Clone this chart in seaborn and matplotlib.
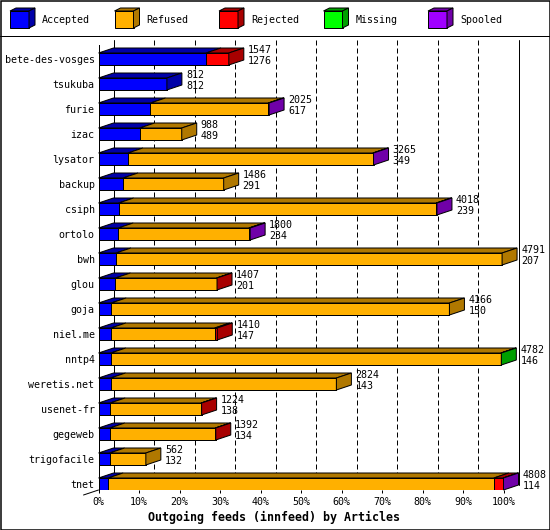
import numpy as np
import pandas as pd
import matplotlib
matplotlib.use("Agg")
import matplotlib.pyplot as plt
import seaborn as sns
from matplotlib.patches import Polygon, Rectangle
from matplotlib.lines import Line2D
from matplotlib.transforms import IdentityTransform

hosts = ["bete-des-vosges", "tsukuba", "furie", "izac", "lysator", "backup",
         "csiph", "ortolo", "bwh", "glou", "goja", "niel.me", "nntp4",
         "weretis.net", "usenet-fr", "gegeweb", "trigofacile", "tnet"]
accepted = [1276, 812, 617, 489, 349, 291, 239, 234, 207, 201, 150, 147, 146, 143, 138, 134, 132, 114]
refused = [0, 0, 1398, 499, 2908, 1195, 3770, 1551, 4584, 1201, 4016, 1233, 4631, 2681, 1081, 1253, 430, 4579]
rejected = [271, 0, 0, 0, 0, 0, 0, 0, 0, 5, 0, 30, 0, 0, 5, 5, 0, 110]
missing = [0, 0, 0, 0, 0, 0, 0, 10, 0, 0, 0, 0, 5, 0, 0, 0, 0, 0]
spooled = [0, 0, 10, 0, 8, 0, 9, 5, 0, 0, 0, 0, 0, 0, 0, 0, 0, 5]

categories = ["Accepted", "Refused", "Rejected", "Missing", "Spooled"]
front_colors = ["#0000ff", "#ffb000", "#ff0000", "#00ff00", "#a000ff"]
dark_colors = ["#0000a8", "#b07800", "#a80000", "#00a000", "#7000a8"]
xticks = list(range(0, 101, 10))
xlabel = "Outgoing feeds (innfeed) by Articles"

sns.set_theme(style="white")
plt.rcParams["font.family"] = ["DejaVu Sans Mono"]

W, H = 550, 530
PX = 72 / 100  # one pixel in points
FS = 7.2

fig = plt.figure(figsize=(W / 100, H / 100), dpi=100)
fig.patch.set_facecolor("white")
L, R, T, B = 98.5, 503.5, 45, 490
ax = fig.add_axes([L / W, (H - B) / H, (R - L) / W, (B - T) / H])
ax.set_facecolor("none")

series = [np.array(s, dtype=float) for s in (accepted, refused, rejected, missing, spooled)]
totals = np.sum(series, axis=0)
maxtot = totals.max()
pct = [s / maxtot * 100 for s in series]
cum = np.cumsum(pct, axis=0)

df = pd.DataFrame({"host": hosts})
for k in reversed(range(5)):
    df["v"] = cum[k]
    sns.barplot(data=df, x="v", y="host", orient="h", color=front_colors[k],
                saturation=1, width=0.48, edgecolor="black", linewidth=PX,
                ax=ax, zorder=3)

ylo, yhi = 17.24, -0.56
ax.set_ylim(ylo, yhi)
ax.set_xlim(0, 100)
DX = 15 / ((R - L) / 100)
DY = 5 / 25
h = 0.24

# 3D faces
for i in range(len(hosts)):
    nz = [k for k in range(5) if series[k][i] > 0]
    for k in nz:
        x0 = cum[k - 1][i] if k > 0 else 0.0
        x1 = cum[k][i]
        top = Polygon([(x0, i - h), (x1, i - h), (x1 + DX, i - h - DY), (x0 + DX, i - h - DY)],
                      closed=True, facecolor=dark_colors[k], edgecolor="black",
                      linewidth=PX, zorder=3.5, clip_on=False)
        ax.add_patch(top)
    k = nz[-1]
    x1 = cum[k][i]
    side = Polygon([(x1, i - h), (x1, i + h), (x1 + DX, i + h - DY), (x1 + DX, i - h - DY)],
                   closed=True, facecolor=dark_colors[k], edgecolor="black",
                   linewidth=PX, zorder=3.5, clip_on=False)
    ax.add_patch(side)
    ax.text(x1 + DX + 1.0, i - 0.15, f"{int(totals[i])}\n{accepted[i]}",
            fontsize=FS, ha="left", va="center", linespacing=1.15,
            color="black", clip_on=False, zorder=5)

# back wall grid
for x in xticks:
    ls = "-" if x in (0, 100) else (0, (5, 3))
    ax.plot([x + DX, x + DX], [ylo - DY, yhi - DY], color="black", lw=PX,
            linestyle=ls, zorder=1, clip_on=False)
ax.plot([-DX, 0], [ylo + DY, ylo], color="black", lw=PX, zorder=2, clip_on=False)

for s in ("top", "right", "bottom"):
    ax.spines[s].set_visible(False)
ax.spines["left"].set_color("black")
ax.spines["left"].set_linewidth(PX)
ax.spines["left"].set_zorder(4)

ax.set_xticks(xticks)
ax.set_xticklabels([f"{v}%" for v in xticks])
ax.tick_params(axis="x", bottom=True, direction="out", length=3 * PX, width=PX,
               color="black", pad=3, labelsize=FS, labelcolor="black")
ax.tick_params(axis="y", left=False, length=0, pad=4 * PX, labelsize=FS, labelcolor="black")
ax.set_xlabel("")
ax.set_ylabel("")
ax.grid(False)

fig.text(274 / W, 1 - 517 / H, xlabel, fontsize=8.4, fontweight="bold",
         ha="center", va="center", color="black")

# legend
idt = IdentityTransform()
def P(x, y):
    return (x, H - y)
for j, name in enumerate(categories):
    bx = 10 + 104.5 * j
    front = Polygon([P(bx, 11), P(bx + 19, 11), P(bx + 19, 28), P(bx, 28)], closed=True,
                    facecolor=front_colors[j], edgecolor="black", linewidth=PX, transform=idt)
    top = Polygon([P(bx, 11), P(bx + 19, 11), P(bx + 25, 8), P(bx + 6, 8)], closed=True,
                  facecolor=dark_colors[j], edgecolor="black", linewidth=PX, transform=idt)
    side = Polygon([P(bx + 19, 11), P(bx + 19, 28), P(bx + 25, 25), P(bx + 25, 8)], closed=True,
                   facecolor=dark_colors[j], edgecolor="black", linewidth=PX, transform=idt)
    for p in (front, top, side):
        fig.add_artist(p)
    fig.text((bx + 32) / W, 1 - 20 / H, name, fontsize=FS, ha="left", va="center", color="black")

fig.add_artist(Line2D([0, W], [H - 35.5, H - 35.5], color="black", lw=PX, transform=idt))
fig.add_artist(Rectangle((0.5, 0.5), W - 1, H - 1, fill=False, edgecolor="black",
                         linewidth=PX * 1.5, transform=idt))

fig.savefig("out.png", dpi=100)
